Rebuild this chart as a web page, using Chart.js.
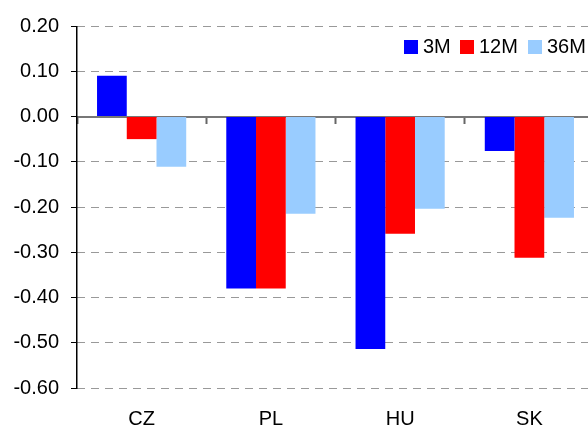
<!DOCTYPE html>
<html>
<head>
<meta charset="utf-8">
<script src="https://cdn.jsdelivr.net/npm/chart.js@4"></script>
<style>
  html, body { margin: 0; padding: 0; background: #fff; overflow: hidden; }
  #wrap { width: 588px; height: 426px; overflow: hidden; }
</style>
</head>
<body>
<div id="wrap"><canvas id="c" width="594" height="426"></canvas></div>
<script>
// данные с картинки
const countries = ["CZ", "PL", "HU", "SK"];
const m3 = [0.09, -0.38, -0.514, -0.076];
const m12 = [-0.05, -0.38, -0.259, -0.312];
const m36 = [-0.111, -0.215, -0.204, -0.224];
const seriesNames = ["3M", "12M", "36M"];
const yTicks = [0.2, 0.1, 0, -0.1, -0.2, -0.3, -0.4, -0.5, -0.6];

const FONT = "Liberation Sans, Arial, sans-serif";
const colors = ["#0000ff", "#ff0000", "#99ccff"];

// сплошная ось Y и легенда справа сверху
const extras = {
  id: "extras",
  afterDraw(chart) {
    const ctx = chart.ctx;
    const a = chart.chartArea;
    const x = Math.round(a.left);
    ctx.save();
    ctx.setLineDash([]);
    ctx.fillStyle = "#000";
    ctx.fillRect(x - 1, a.top, 1.5, a.bottom - a.top + 1);

    const boxX = [404, 460, 528];
    ctx.font = "20px " + FONT;
    ctx.textBaseline = "middle";
    chart.data.datasets.forEach((ds, i) => {
      ctx.fillStyle = ds.backgroundColor;
      ctx.fillRect(boxX[i], 40, 14, 14);
      ctx.fillStyle = "#000";
      ctx.fillText(ds.label, boxX[i] + 19, 47);
    });
    ctx.restore();
  },
};

new Chart(document.getElementById("c"), {
  type: "bar",
  data: {
    labels: countries,
    datasets: [m3, m12, m36].map((vals, i) => ({
      label: seriesNames[i],
      data: vals,
      backgroundColor: colors[i],
      borderWidth: 0,
      categoryPercentage: 0.69,
      barPercentage: 1,
    })),
  },
  options: {
    responsive: false,
    animation: false,
    layout: { padding: { top: 26, right: 0, left: 0, bottom: 0 } },
    plugins: { legend: { display: false }, tooltip: { enabled: false } },
    scales: {
      x: {
        position: "bottom",
        grid: { display: false },
        border: { display: false },
        ticks: { color: "#000", font: { family: FONT, size: 20 }, padding: 11, maxRotation: 0 },
        afterFit(s) { s.height = 38; },
      },
      x0: {
        type: "category",
        position: { y: 0 },
        offset: true,
        grid: { offset: true, drawOnChartArea: false, drawTicks: true, tickLength: 6, tickColor: "#666", tickWidth: 2 },
        border: { display: true, color: "#777", width: 2 },
        ticks: { display: false },
      },
      y: {
        min: -0.6,
        max: 0.2,
        afterBuildTicks(s) { s.ticks = yTicks.map((v) => ({ value: v })); },
        grid: { color: "#999", lineWidth: 1, tickLength: 6, tickColor: "#000" },
        border: { display: false, dash: [8, 6] },
        ticks: {
          color: "#000",
          font: { family: FONT, size: 20 },
          padding: 12,
          callback: (v) => Number(v).toFixed(2),
        },
        afterFit(s) { s.width = 77; },
      },
    },
  },
  plugins: [extras],
});
</script>
</body>
</html>
